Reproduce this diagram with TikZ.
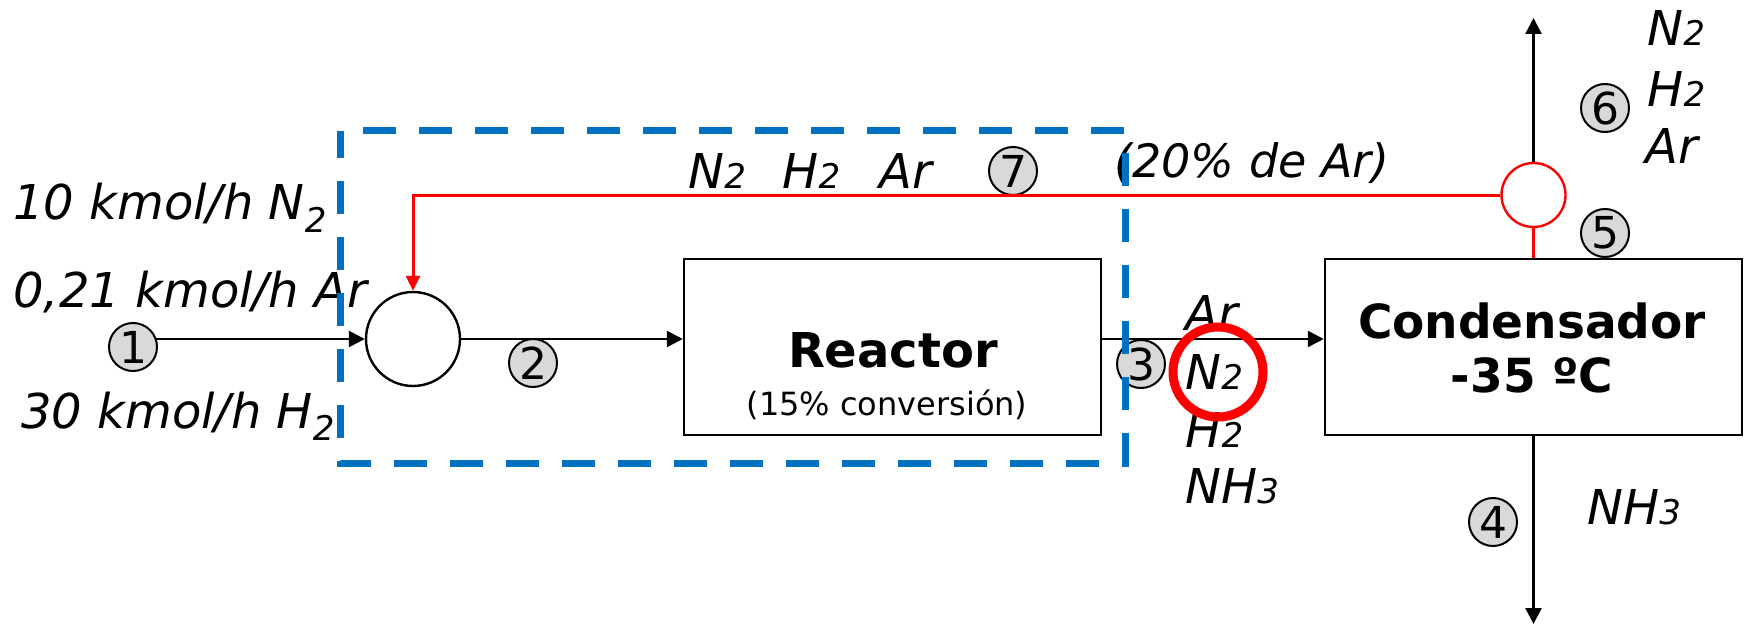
\documentclass[tikz,border=0pt]{standalone}
\usepackage{fontspec}
\setmainfont{DejaVu Sans}
\usetikzlibrary{arrows.meta,calc}
\definecolor{boxblue}{RGB}{0,112,192}
\definecolor{labgray}{RGB}{217,217,217}
\newcommand\smd[1]{{\fontsize{17}{17}\selectfont #1}}
\newcommand\subd[1]{\raisebox{-6pt}{\fontsize{17}{17}\selectfont #1}}
\begin{document}
\begin{tikzpicture}[x=0.5pt,y=-0.5pt,
  lab/.style={circle,draw=black,line width=1pt,fill=labgray,minimum size=24pt,inner sep=0pt,font=\fontsize{22}{22}\selectfont},
  unitbox/.style={draw=black,line width=1.25pt,minimum width=208.5pt,minimum height=88pt,inner sep=0pt},
  flow/.style={line width=1.3pt,-{Triangle[length=8pt,width=8pt]}},
  recyc/.style={red,line width=1.5pt},
  itl/.style={font=\fontsize{24}{28}\selectfont\itshape,inner sep=0pt,anchor=base west},
  boldtxt/.style={font=\fontsize{24}{28}\selectfont\bfseries,inner sep=0pt,anchor=base},
  dashbox/.style={boxblue,line width=3.5pt,dash pattern=on 16.3pt off 11.7pt,dash phase=16.3pt}
]
\useasboundingbox (0,0) rectangle (1746,626);
% units
\node[circle,draw=black,line width=1.2pt,minimum size=47pt,inner sep=0pt] (mix) at (413,339) {};
\node[unitbox] (reac) at (892.5,347) {};
\node[unitbox] (cond) at (1533.5,347) {};
\node[circle,draw=red,line width=1.2pt,minimum size=32pt,inner sep=0pt] (split) at (1533.5,195) {};
\coordinate (top) at (1533.5,18);
\coordinate (bot) at (1533.5,624);
% stream labels
\node[lab] (s1) at (133,347) {1};
\node[lab] (s2) at (533,363) {2};
\node[lab] (s3) at (1141,364) {3};
\node[lab] (s4) at (1493,522) {4};
\node[lab] (s5) at (1605,233) {5};
\node[lab] (s6) at (1605,108) {6};
\node[lab] (s7) at (1013,171) {7};
% connectors
\draw[flow] ($(s1.east |- mix.west)+(-2,0)$) -- (mix.west);
\draw[flow] (mix.east) -- (reac.west |- mix.east);
\draw[flow] (reac.east |- mix.east) -- (cond.west |- mix.east);
\draw[flow] (cond.south) -- (bot);
\draw[flow] (split.north) -- (top);
\draw[recyc,-{Triangle[length=7.5pt,width=7pt]}] (split.west) -| (mix.north);
\draw[recyc] (split.south) -- (cond.north);
% texts
\node[itl] (f1) at (13,220) {10 kmol/h N\subd{2}};
\node[itl] (f2) at (13,307) {0,21 kmol/h Ar};
\node[itl] (f3) at (21,428) {30 kmol/h H\subd{2}};
\node[itl] (r1) at (688,188) {N\smd{2}};
\node[itl] (r2) at (782,188) {H\smd{2}};
\node[itl] (r3) at (879,188) {Ar};
\node[itl,font=\fontsize{23}{28}\selectfont\itshape] (pc) at (1114,177) {(20\% de Ar)};
\node[itl] (c1) at (1185,330) {Ar};
\node[itl] (c2) at (1185,389) {N\smd{2}};
\node[itl] (c3) at (1185,447) {H\smd{2}};
\node[itl] (c4) at (1185,503) {NH\smd{3}};
\node[itl] (g1) at (1647,46) {N\smd{2}};
\node[itl] (g2) at (1647,107) {H\smd{2}};
\node[itl] (g3) at (1645,163) {Ar};
\node[itl] (l4) at (1587,524) {NH\smd{3}};
\node[boldtxt] (rt) at (893,367) {Reactor};
\node[font=\fontsize{16}{18}\selectfont,inner sep=0pt,anchor=base] (rc) at (887,415) {(15\% conversión)};
\node[boldtxt,font=\fontsize{23.5}{28}\selectfont\bfseries] (ct) at (1532,338) {Condensador};
\node[boldtxt,font=\fontsize{23.5}{28}\selectfont\bfseries] (ctt) at (1532,392) {-35 ºC};
% control volume
\draw[dashbox] (340,131) -- (1125,131) -- (1125,463) -- (340,463) -- cycle;
% highlight ring
\node[circle,draw=red,line width=4.5pt,minimum size=45pt,inner sep=0pt] (ring) at (1218,372) {};
\end{tikzpicture}
\end{document}
